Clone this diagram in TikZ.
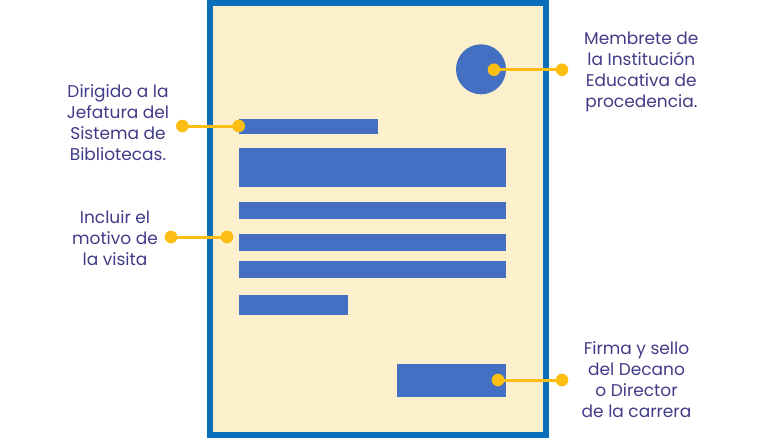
\documentclass[tikz,border=0pt]{standalone}
\usepackage{fontspec}
\setmainfont{Poppins}
\definecolor{frameblue}{HTML}{0A6EBB}
\definecolor{paper}{HTML}{FDF0CC}
\definecolor{barblue}{HTML}{4470C4}
\definecolor{dotyellow}{HTML}{FDBE14}
\definecolor{txt}{HTML}{423C88}
\tikzset{x=1pt,y=-1pt,
 bar/.style={fill=barblue,draw=none,inner sep=0pt,minimum width=0pt},
 dot/.style={circle,fill=dotyellow,draw=none,inner sep=0pt,minimum size=12.6pt},
 link/.style={draw=dotyellow,line width=3pt},
 lab/.style={text=txt,align=center,font=\fontsize{17}{21}\selectfont,inner sep=0pt}}
\newcommand{\barat}[5]{\node[bar,minimum width=#4-#2,minimum height=#5-#3,anchor=north west] (#1) at (#2,#3) {};}
\begin{document}
\begin{tikzpicture}
\useasboundingbox (0,0) rectangle (768,440);
\fill[white] (0,0) rectangle (768,440);
\draw[draw=frameblue,fill=paper,line width=6pt] (210.3,3) rectangle (546,435);
\node[circle,fill=barblue,minimum size=50pt,inner sep=0pt] (logo) at (481,69.3) {};
\barat{b1}{238.5}{119}{378}{133.5}
\barat{b2}{238.5}{148}{506}{187}
\barat{b3}{238.5}{202}{506}{219}
\barat{b4}{238.5}{234}{506}{251}
\barat{b5}{238.5}{261}{506}{278}
\barat{b6}{238.5}{295}{347.5}{315}
\barat{b7}{397}{364}{506}{397}
\node[dot] (d1a) at (494,69.7) {};
\node[dot] (d1b) at (562,69.7) {};
\draw[link] (d1a.center) -- (d1b.center);
\node[dot] (d2a) at (238.7,126) {};
\node[dot] (d2b) at (182.3,126) {};
\draw[link] (d2a.center) -- (d2b.center);
\node[dot] (d3a) at (227,237) {};
\node[dot] (d3b) at (171,237) {};
\draw[link] (d3a.center) -- (d3b.center);
\node[dot] (d4a) at (498,380) {};
\node[dot] (d4b) at (562,380) {};
\draw[link] (d4a.center) -- (d4b.center);
\node[lab] (t1) at (641.3,71.5) {Membrete de\\la Institución\\Educativa de\\procedencia.};
\node[lab] (t2) at (118,122.5) {Dirigido a la\\Jefatura del\\Sistema de\\Bibliotecas.};
\node[lab] (t3) at (115,238) {Incluir el\\motivo de\\la visita};
\node[lab] (t4) at (636.5,379.5) {Firma y sello\\del Decano\\o Director\\de la carrera};
\end{tikzpicture}
\end{document}
